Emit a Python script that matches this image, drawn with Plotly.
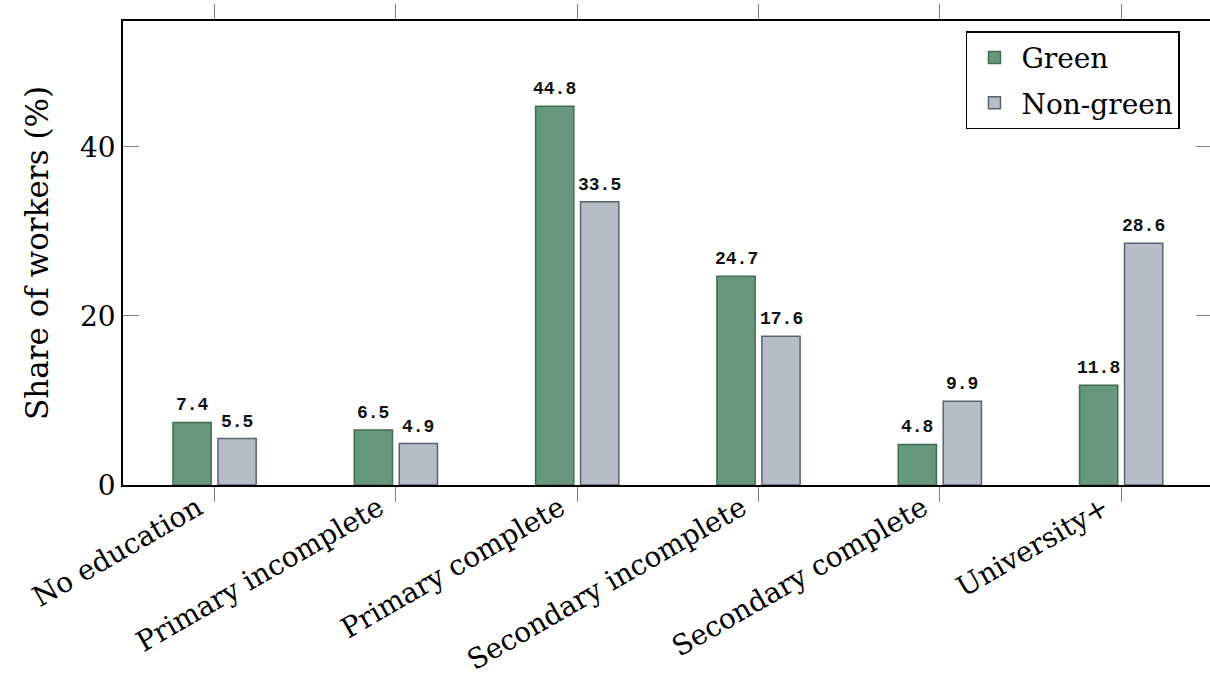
import plotly.graph_objects as go

categories = ["No education", "Primary incomplete", "Primary complete",
              "Secondary incomplete", "Secondary complete", "University+"]
green = [7.4, 6.5, 44.8, 24.7, 4.8, 11.8]
non_green = [5.5, 4.9, 33.5, 17.6, 9.9, 28.6]
y_ticks = [0, 20, 40]

GREEN_FILL = "#67977f"
GREEN_LINE = "#3f6e52"
GREY_FILL = "#b7bcc7"
GREY_LINE = "#596273"
SERIF = "DejaVu Serif"
FS = 28

fig = go.Figure()
fig.add_trace(go.Bar(name="Green", x=categories, y=green, legendgroup="g",
                     marker=dict(color=GREEN_FILL, line=dict(color=GREEN_LINE, width=1.5))))
fig.add_trace(go.Bar(name="Non-green", x=categories, y=non_green, legendgroup="n",
                     marker=dict(color=GREY_FILL, line=dict(color=GREY_LINE, width=1.5))))

# value labels above bars
slot = 0.248
annotations = []
for i, (g, n) in enumerate(zip(green, non_green)):
    for val, off in ((g, -slot / 2), (n, slot / 2)):
        annotations.append(dict(x=i + off, y=val, xref="x", yref="y", text=f"{val:.1f}",
                                showarrow=False, yanchor="bottom", yshift=5,
                                font=dict(family="Liberation Mono", size=18, color="#111111", weight="bold")))

fig.update_layout(
    width=1210, height=677,
    margin=dict(l=123, r=0, t=21, b=192, autoexpand=False),
    paper_bgcolor="white", plot_bgcolor="white",
    barmode="group", bargap=0.504, bargroupgap=0.15,
    font=dict(family=SERIF, size=FS, color="black"),
    showlegend=True,
    legend=dict(x=0.7755, y=0.978, xanchor="left", yanchor="top",
                bordercolor="black", borderwidth=1.5, bgcolor="white",
                font=dict(family=SERIF, size=FS), tracegroupgap=6,
                itemwidth=44, entrywidth=210, entrywidthmode="pixels"),
    annotations=annotations,
)
fig.update_xaxes(
    type="category", range=[-0.505, 5.49], automargin=False,
    showline=True, linecolor="black", linewidth=1.5, mirror="ticks",
    ticks="outside", ticklen=15, tickcolor="#808080", tickwidth=1,
    tickangle=-30, tickfont=dict(family=SERIF, size=FS),
    ticklabelstandoff=-21, ticklabelshift=-17,
    showgrid=False, zeroline=False,
)
fig.update_yaxes(
    range=[0, 54.9], tickvals=y_ticks, automargin=False,
    showline=True, linecolor="black", linewidth=1.5,
    ticks="inside", ticklen=16, tickcolor="#808080", tickwidth=1,
    tickfont=dict(family=SERIF, size=FS),
    title=dict(text="Share of workers (%)", font=dict(family=SERIF, size=31), standoff=22),
    showgrid=False, zeroline=False,
)
# right-side inside ticks (no line), matching primary y axis
fig.add_trace(go.Scatter(x=[categories[0]], y=[0], yaxis="y2", mode="markers",
                         marker=dict(opacity=0), showlegend=False, hoverinfo="skip"))
fig.update_layout(yaxis2=dict(overlaying="y", side="right", range=[0, 54.9], automargin=False,
                              tickvals=y_ticks, ticks="inside", ticklen=14, tickcolor="#808080",
                              showticklabels=False, showline=False, showgrid=False, zeroline=False))

fig.write_html("out.html", config={"displayModeBar": False},
               post_script="document.body.style.margin='0';document.body.style.overflow='hidden';")
